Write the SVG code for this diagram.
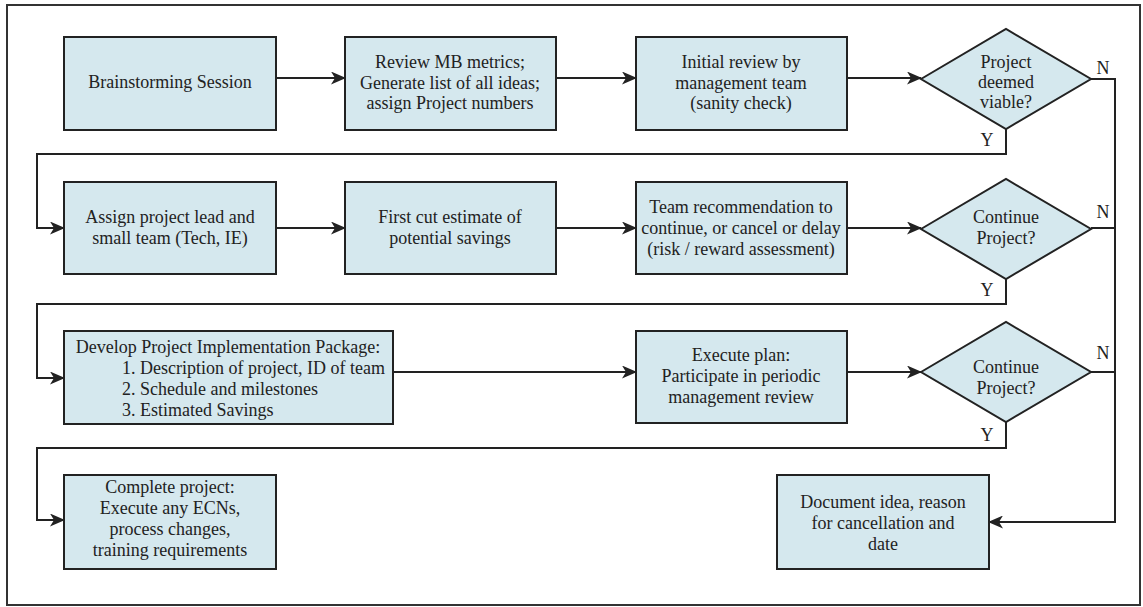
<svg xmlns="http://www.w3.org/2000/svg" width="1143" height="607" viewBox="0 0 1143 607">
<defs>
<style>
.box{fill:#d5e8ee;stroke:#222;stroke-width:2}
.t{font-family:"Liberation Serif","Times New Roman",serif;font-size:18px;fill:#222;text-anchor:middle}
.l{font-family:"Liberation Serif","Times New Roman",serif;font-size:18px;fill:#222}
.c{fill:none;stroke:#222;stroke-width:2}
</style>
<marker id="ah" markerWidth="15" markerHeight="13" refX="14" refY="6.5" orient="auto" markerUnits="userSpaceOnUse">
<path d="M0,0 L15,6.5 L0,13 L4,6.5 z" fill="#222"/>
</marker>
</defs>
<rect x="0" y="0" width="1143" height="607" fill="#fff"/>
<rect x="7" y="5" width="1133" height="600" fill="none" stroke="#333" stroke-width="2"/>

<g id="connectors">
<line class="c" x1="276" y1="78" x2="345" y2="78" marker-end="url(#ah)"/>
<line class="c" x1="556" y1="78" x2="636" y2="78" marker-end="url(#ah)"/>
<line class="c" x1="847" y1="78" x2="921" y2="78" marker-end="url(#ah)"/>
<polyline class="c" points="1006,129 1006,154 37,154 37,228 64,228" marker-end="url(#ah)"/>
<line class="c" x1="276" y1="228" x2="345" y2="228" marker-end="url(#ah)"/>
<line class="c" x1="556" y1="228" x2="636" y2="228" marker-end="url(#ah)"/>
<line class="c" x1="847" y1="228" x2="921" y2="228" marker-end="url(#ah)"/>
<polyline class="c" points="1006,279 1006,304 37,304 37,378 64,378" marker-end="url(#ah)"/>
<line class="c" x1="393" y1="372" x2="636" y2="372" marker-end="url(#ah)"/>
<line class="c" x1="847" y1="372" x2="921" y2="372" marker-end="url(#ah)"/>
<polyline class="c" points="1006,422 1006,448 37,448 37,520 64,520" marker-end="url(#ah)"/>
<polyline class="c" points="1091,79 1115,79 1115,522 989,522" marker-end="url(#ah)"/>
<line class="c" x1="1091" y1="228" x2="1115" y2="228"/>
<line class="c" x1="1091" y1="372" x2="1115" y2="372"/>
<text class="t" x="1103" y="74">N</text>
<text class="t" x="1103" y="218">N</text>
<text class="t" x="1103" y="359">N</text>
<text class="t" x="987" y="146">Y</text>
<text class="t" x="987" y="296">Y</text>
<text class="t" x="987" y="441">Y</text>
</g>

<g id="n1"><rect class="box" x="64" y="37" width="212" height="93"/>
<text class="t" x="170" y="88">Brainstorming Session</text></g>
<g id="n2"><rect class="box" x="345" y="37" width="211" height="93"/>
<text class="t" x="450" y="68">Review MB metrics;</text>
<text class="t" x="450" y="89">Generate list of all ideas;</text>
<text class="t" x="450" y="109">assign Project numbers</text></g>
<g id="n3"><rect class="box" x="636" y="37" width="211" height="93"/>
<text class="t" x="741" y="68">Initial review by</text>
<text class="t" x="741" y="89">management team</text>
<text class="t" x="741" y="109">(sanity check)</text></g>
<g id="d1"><polygon class="box" points="921,79 1006,29 1091,79 1006,129"/>
<text class="t" x="1006" y="68">Project</text>
<text class="t" x="1006" y="88">deemed</text>
<text class="t" x="1006" y="108">viable?</text></g>

<g id="n4"><rect class="box" x="64" y="182" width="212" height="92"/>
<text class="t" x="170" y="223">Assign project lead and</text>
<text class="t" x="170" y="244">small team (Tech, IE)</text></g>
<g id="n5"><rect class="box" x="345" y="182" width="211" height="92"/>
<text class="t" x="450" y="223">First cut estimate of</text>
<text class="t" x="450" y="244">potential savings</text></g>
<g id="n6"><rect class="box" x="636" y="182" width="211" height="92"/>
<text class="t" x="741" y="213">Team recommendation to</text>
<text class="t" x="741" y="234">continue, or cancel or delay</text>
<text class="t" x="741" y="255">(risk / reward assessment)</text></g>
<g id="d2"><polygon class="box" points="921,229 1006,179 1091,229 1006,279"/>
<text class="t" x="1006" y="223">Continue</text>
<text class="t" x="1006" y="244">Project?</text></g>

<g id="n7"><rect class="box" x="64" y="331" width="329" height="93"/>
<text class="t" x="228" y="353">Develop Project Implementation Package:</text>
<text class="l" x="122" y="374">1. Description of project, ID of team</text>
<text class="l" x="122" y="395">2. Schedule and milestones</text>
<text class="l" x="122" y="416">3. Estimated Savings</text></g>
<g id="n8"><rect class="box" x="636" y="331" width="211" height="92"/>
<text class="t" x="741" y="361">Execute plan:</text>
<text class="t" x="741" y="382">Participate in periodic</text>
<text class="t" x="741" y="403">management review</text></g>
<g id="d3"><polygon class="box" points="921,372 1006,322 1091,372 1006,422"/>
<text class="t" x="1006" y="373">Continue</text>
<text class="t" x="1006" y="394">Project?</text></g>

<g id="n9"><rect class="box" x="64" y="475" width="212" height="94"/>
<text class="t" x="170" y="493">Complete project:</text>
<text class="t" x="170" y="514">Execute any ECNs,</text>
<text class="t" x="170" y="535">process changes,</text>
<text class="t" x="170" y="556">training requirements</text></g>
<g id="n10"><rect class="box" x="777" y="475" width="212" height="94"/>
<text class="t" x="883" y="508">Document idea, reason</text>
<text class="t" x="883" y="529">for cancellation and</text>
<text class="t" x="883" y="550">date</text></g>
</svg>
